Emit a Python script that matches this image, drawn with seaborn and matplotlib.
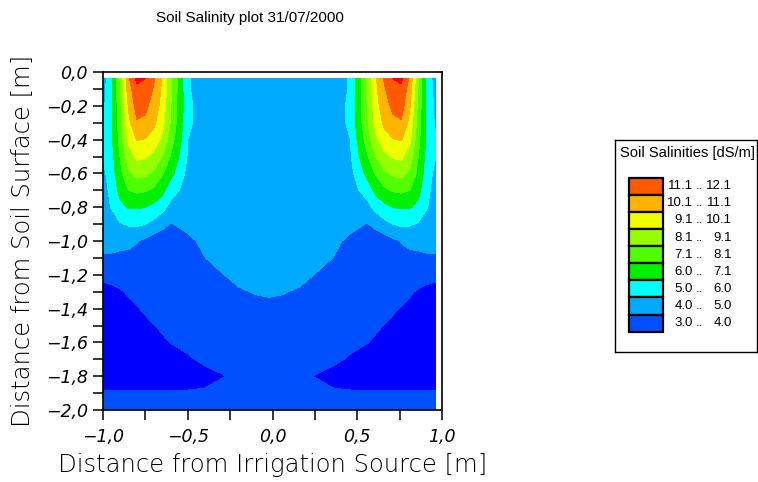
import numpy as np
import pandas as pd
import seaborn as sns
import matplotlib
matplotlib.use("Agg")
import matplotlib.pyplot as plt
from matplotlib.ticker import MultipleLocator, FuncFormatter

# ---------------- data ----------------
x_pos = [-1.0, -0.95, -0.9, -0.85, -0.8, -0.75, -0.7, -0.65, -0.6, -0.5, -0.4, -0.3, -0.2, -0.1,
         -0.02,
         0.06, 0.16, 0.26, 0.36, 0.46, 0.56, 0.61, 0.66, 0.71, 0.76, 0.81, 0.86, 0.91, 0.96]

depth = [-0.04, -0.1, -0.2, -0.3, -0.4, -0.5, -0.6, -0.7, -0.8, -0.9, -1.0,
         -1.1, -1.2, -1.3, -1.4, -1.5, -1.6, -1.7, -1.8, -1.9, -2.0]

salinity = [
    [4.6, 5.6, 8.1, 10.9, 12.3, 12.1, 11.2, 10.0, 8.3, 5.1, 4.5, 4.6, 4.6, 4.6, 4.6, 4.6, 4.6, 4.6, 4.5, 5.1, 8.3, 10.0, 11.2, 12.1, 12.3, 10.9, 8.1, 5.6, 4.6],
    [4.7, 5.7, 8.0, 10.6, 11.9, 11.8, 11.0, 9.9, 8.3, 5.1, 4.5, 4.6, 4.6, 4.6, 4.6, 4.6, 4.6, 4.6, 4.5, 5.1, 8.3, 9.9, 11.0, 11.8, 11.9, 10.6, 8.0, 5.7, 4.7],
    [4.8, 5.7, 7.8, 10.2, 11.5, 11.3, 10.7, 9.7, 8.1, 5.2, 4.5, 4.55, 4.6, 4.6, 4.6, 4.6, 4.6, 4.55, 4.5, 5.2, 8.1, 9.7, 10.7, 11.3, 11.5, 10.2, 7.8, 5.7, 4.8],
    [4.9, 5.7, 7.6, 9.8, 11.0, 10.9, 10.3, 9.4, 8.0, 5.2, 4.5, 4.55, 4.6, 4.6, 4.6, 4.6, 4.6, 4.55, 4.5, 5.2, 8.0, 9.4, 10.3, 10.9, 11.0, 9.8, 7.6, 5.7, 4.9],
    [5.1, 5.8, 7.4, 9.3, 10.15, 10.05, 9.7, 8.9, 7.6, 5.0, 4.5, 4.55, 4.6, 4.6, 4.6, 4.6, 4.6, 4.55, 4.5, 5.0, 7.6, 8.9, 9.7, 10.05, 10.15, 9.3, 7.4, 5.8, 5.1],
    [5.05, 5.6, 7.1, 8.6, 9.3, 9.2, 8.8, 8.1, 7.0, 4.9, 4.5, 4.5, 4.55, 4.6, 4.6, 4.6, 4.55, 4.5, 4.5, 4.9, 7.0, 8.1, 8.8, 9.2, 9.3, 8.6, 7.1, 5.6, 5.05],
    [4.8, 5.4, 6.8, 7.9, 8.4, 8.3, 7.9, 7.2, 6.3, 4.7, 4.5, 4.5, 4.55, 4.6, 4.6, 4.6, 4.55, 4.5, 4.5, 4.7, 6.3, 7.2, 7.9, 8.3, 8.4, 7.9, 6.8, 5.4, 4.8],
    [4.7, 5.2, 6.3, 7.1, 7.3, 7.2, 6.9, 6.3, 5.4, 4.6, 4.5, 4.5, 4.55, 4.6, 4.6, 4.6, 4.55, 4.5, 4.5, 4.6, 5.4, 6.3, 6.9, 7.2, 7.3, 7.1, 6.3, 5.2, 4.7],
    [4.6, 5.05, 5.7, 6.1, 6.1, 6.0, 5.7, 5.3, 4.7, 4.4, 4.5, 4.5, 4.55, 4.6, 4.6, 4.6, 4.55, 4.5, 4.5, 4.4, 4.7, 5.3, 5.7, 6.0, 6.1, 6.1, 5.7, 5.05, 4.6],
    [4.4, 4.6, 4.9, 5.1, 5.15, 5.0, 4.7, 4.3, 3.95, 4.25, 4.45, 4.5, 4.55, 4.6, 4.6, 4.6, 4.55, 4.5, 4.45, 4.25, 3.95, 4.3, 4.7, 5.0, 5.15, 5.1, 4.9, 4.6, 4.4],
    [4.25, 4.25, 4.2, 4.2, 4.05, 3.8, 3.5, 3.4, 3.4, 3.8, 4.2, 4.4, 4.5, 4.55, 4.55, 4.55, 4.5, 4.4, 4.2, 3.8, 3.4, 3.4, 3.5, 3.8, 4.05, 4.2, 4.2, 4.25, 4.25],
    [3.9, 3.9, 3.85, 3.8, 3.7, 3.6, 3.4, 3.35, 3.35, 3.5, 3.98, 4.3, 4.45, 4.5, 4.5, 4.5, 4.45, 4.3, 3.98, 3.5, 3.35, 3.35, 3.4, 3.6, 3.7, 3.8, 3.85, 3.9, 3.9],
    [3.3, 3.4, 3.5, 3.5, 3.45, 3.4, 3.35, 3.3, 3.3, 3.4, 3.7, 3.95, 4.25, 4.4, 4.45, 4.4, 4.25, 3.95, 3.7, 3.4, 3.3, 3.3, 3.35, 3.4, 3.45, 3.5, 3.5, 3.4, 3.3],
    [2.6, 2.7, 2.9, 3.1, 3.25, 3.3, 3.3, 3.3, 3.3, 3.35, 3.5, 3.7, 3.9, 4.05, 4.1, 4.05, 3.9, 3.7, 3.5, 3.35, 3.3, 3.3, 3.3, 3.3, 3.25, 3.1, 2.9, 2.7, 2.6],
    [2.5, 2.5, 2.6, 2.8, 2.95, 3.1, 3.2, 3.25, 3.3, 3.3, 3.4, 3.5, 3.65, 3.75, 3.8, 3.75, 3.65, 3.5, 3.4, 3.3, 3.3, 3.25, 3.2, 3.1, 2.95, 2.8, 2.6, 2.5, 2.5],
    [2.4, 2.4, 2.45, 2.55, 2.7, 2.85, 2.98, 3.1, 3.2, 3.3, 3.35, 3.45, 3.55, 3.6, 3.65, 3.6, 3.55, 3.45, 3.35, 3.3, 3.2, 3.1, 2.98, 2.85, 2.7, 2.55, 2.45, 2.4, 2.4],
    [2.3, 2.3, 2.35, 2.4, 2.5, 2.6, 2.75, 2.9, 3.02, 3.2, 3.3, 3.4, 3.5, 3.55, 3.6, 3.55, 3.5, 3.4, 3.3, 3.2, 3.02, 2.9, 2.75, 2.6, 2.5, 2.4, 2.35, 2.3, 2.3],
    [2.3, 2.3, 2.3, 2.3, 2.35, 2.4, 2.5, 2.6, 2.7, 2.9, 3.15, 3.3, 3.4, 3.5, 3.55, 3.5, 3.4, 3.3, 3.15, 2.9, 2.7, 2.6, 2.5, 2.4, 2.35, 2.3, 2.3, 2.3, 2.3],
    [2.3, 2.3, 2.3, 2.3, 2.3, 2.3, 2.3, 2.35, 2.4, 2.55, 2.75, 2.95, 3.15, 3.35, 3.45, 3.35, 3.15, 2.95, 2.75, 2.55, 2.4, 2.35, 2.3, 2.3, 2.3, 2.3, 2.3, 2.3, 2.3],
    [3.1, 3.1, 3.1, 3.1, 3.1, 3.1, 3.1, 3.1, 3.1, 3.1, 3.1, 3.3, 3.4, 3.45, 3.5, 3.45, 3.4, 3.3, 3.1, 3.1, 3.1, 3.1, 3.1, 3.1, 3.1, 3.1, 3.1, 3.1, 3.1],
    [3.3, 3.3, 3.3, 3.3, 3.3, 3.3, 3.3, 3.3, 3.3, 3.3, 3.3, 3.3, 3.3, 3.3, 3.3, 3.3, 3.3, 3.3, 3.3, 3.3, 3.3, 3.3, 3.3, 3.3, 3.3, 3.3, 3.3, 3.3, 3.3],
]

level_edges = [0.0, 3.0, 4.0, 5.0, 6.0, 7.1, 8.1, 9.1, 10.1, 11.1, 12.1, 20.0]
level_colors = ['#0000FF', '#0050FF', '#00AAFF', '#00FFFF', '#00F000', '#50FF00',
                '#96FF00', '#F0FF00', '#FFB400', '#FF5A00', '#FF0000']

legend_lo = [11.1, 10.1, 9.1, 8.1, 7.1, 6.0, 5.0, 4.0, 3.0]
legend_hi = [12.1, 11.1, 10.1, 9.1, 8.1, 7.1, 6.0, 5.0, 4.0]
legend_colors = ['#FF5A00', '#FFB400', '#F0FF00', '#96FF00', '#50FF00', '#00F000',
                 '#00FFFF', '#00AAFF', '#0050FF']

title_text = "Soil Salinity plot 31/07/2000"
x_label = "Distance from Irrigation Source [m]"
y_label = "Distance from Soil Surface [m]"
legend_title = "Soil Salinities [dS/m]"

# ---------------- plot ----------------
sns.set_style("ticks")
plt.rcParams['font.family'] = ['DejaVu Sans']
plt.rcParams['text.color'] = 'black'
plt.rcParams['axes.labelcolor'] = 'black'
plt.rcParams['xtick.color'] = 'black'
plt.rcParams['ytick.color'] = 'black'

W, H = 758, 482
grid = pd.DataFrame(salinity, index=depth, columns=x_pos)

fig = plt.figure(figsize=(W / 100, H / 100), dpi=100)
ax = fig.add_axes([103 / W, 1 - 410 / H, 339 / W, 338 / H])

ax.contourf(grid.columns.values, grid.index.values, grid.values,
            levels=level_edges, colors=level_colors, antialiased=False)

ax.set_xlim(-1.0, 1.0)
ax.set_ylim(-2.0, 0.0)

for s in ax.spines.values():
    s.set_visible(True)
    s.set_color('black')
    s.set_linewidth(1.2)

ax.xaxis.set_major_locator(MultipleLocator(0.5))
ax.xaxis.set_minor_locator(MultipleLocator(0.25))
ax.yaxis.set_major_locator(MultipleLocator(0.2))
ax.yaxis.set_minor_locator(MultipleLocator(0.1))

fmt = FuncFormatter(lambda v, _: f"{v:.1f}".replace('.', ',').replace('-', '\u2212'))
ax.xaxis.set_major_formatter(fmt)
ax.yaxis.set_major_formatter(fmt)

ax.tick_params(which='both', direction='out', length=7, width=1.1, color='black',
               top=False, right=False)
ax.tick_params(axis='x', which='major', labelsize=12.5, pad=6)
ax.tick_params(axis='y', which='major', labelsize=12.5, pad=4)
for lab in ax.get_xticklabels() + ax.get_yticklabels():
    lab.set_fontstyle('italic')

ax.set_xlabel(x_label, fontsize=17.5, fontweight='light', labelpad=5)
ax.set_ylabel(y_label, fontsize=17.5, fontweight='light', labelpad=8)

fig.text(250 / W, 1 - 18 / H, title_text, ha='center', va='center', fontsize=11,
         family=['Liberation Sans', 'DejaVu Sans'])

# ---------------- legend (own axes, rows = legend entries) ----------------
box_l, box_r, box_t, box_b = 615, 757, 140, 352
row0_top, pitch = 177.7, 17.1
lax = fig.add_axes([box_l / W, 1 - box_b / H, (box_r - box_l) / W, (box_b - box_t) / H])
lax.set_xlim(0, box_r - box_l)
lax.set_ylim((box_b - row0_top) / pitch - 0.5, (box_t - row0_top) / pitch - 0.5)
lax.set_xticks([])
lax.set_yticks([])
for s in lax.spines.values():
    s.set_visible(True)
    s.set_color('black')
    s.set_linewidth(1.0)

rows = np.arange(len(legend_colors))
lax.barh(rows, 34, left=14, height=1.0, color=legend_colors, edgecolor='black', linewidth=1.6)

narrow = ['Liberation Sans Narrow', 'Liberation Sans', 'DejaVu Sans']
for r, lo, hi in zip(rows, legend_lo, legend_hi):
    lax.text(78, r, f"{lo:.1f}", ha='right', va='center', fontsize=9.5, family=narrow)
    lax.text(84.5, r, "..", ha='center', va='center', fontsize=9.5, family=narrow)
    lax.text(117, r, f"{hi:.1f}", ha='right', va='center', fontsize=9.5, family=narrow)

lax.text(5, (box_t + 13 - row0_top) / pitch - 0.5, legend_title, ha='left', va='center',
         fontsize=10.6, family=['Liberation Sans', 'DejaVu Sans'])

fig.savefig('out.png', dpi=100, facecolor='white')
